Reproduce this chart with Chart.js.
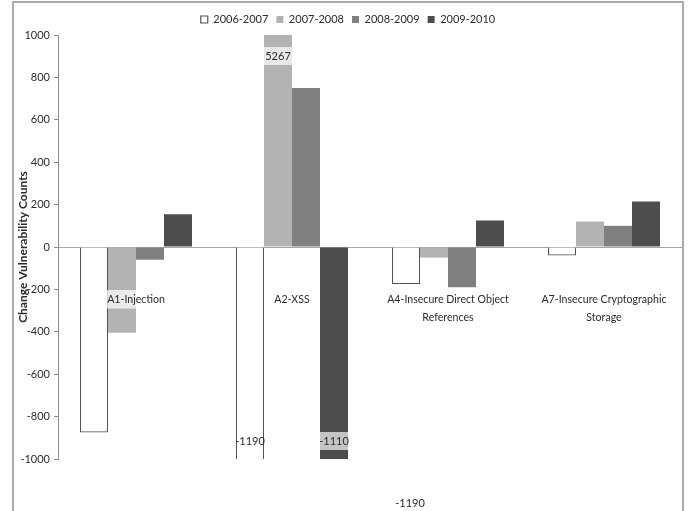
<!DOCTYPE html>
<html>
<head>
<meta charset="utf-8">
<script src="https://cdn.jsdelivr.net/npm/chart.js@4/dist/chart.umd.min.js"></script>
<style>
  html, body { margin: 0; padding: 0; background: #fff; }
  #wrap { width: 688px; height: 511px; position: relative; }
</style>
</head>
<body>
<div id="wrap"><canvas id="c" width="688" height="511"></canvas></div>
<script>
// Change in vulnerability counts per OWASP category, year over year
const categories = [
  'A1-Injection',
  'A2-XSS',
  ['A4-Insecure Direct Object', 'References'],
  ['A7-Insecure Cryptographic', 'Storage']
];
const seriesNames = ['2006-2007', '2007-2008', '2008-2009', '2009-2010'];
const change0607 = [-875, -1190, -175, -40];
const change0708 = [-405, 5267, -50, 120];
const change0809 = [-60, 750, -190, 100];
const change0910 = [155, -1110, 125, 215];
const yTicks = [-1000, -800, -600, -400, -200, 0, 200, 400, 600, 800, 1000];

const FONT = 'Lato, "Open Sans", sans-serif';
const TEXT = '#2b2b2b';

// Value labels for the bars that run past the axis range
const valueLabels = [
  { ds: 1, idx: 1, where: 'top', bg: 'rgba(255,255,255,0.7)' },
  { ds: 3, idx: 1, where: 'bottom', bg: 'rgba(255,255,255,0.68)' },
  { ds: 0, idx: 1, where: 'bottom', bg: null },
  { ds: 0, idx: 1, where: 'outside', bg: null }
];

const frame = {
  id: 'frame',
  beforeDraw(chart) {
    const ctx = chart.ctx;
    ctx.save();
    ctx.fillStyle = '#ffffff';
    ctx.fillRect(0, 0, chart.width, chart.height);
    ctx.strokeStyle = '#ababab';
    ctx.lineWidth = 2;
    ctx.strokeRect(13, 2, 670, 530);
    ctx.restore();
  }
};

const barLabels = {
  id: 'barLabels',
  afterDatasetsDraw(chart) {
    const ctx = chart.ctx;
    const area = chart.chartArea;
    ctx.save();
    ctx.font = '11px ' + FONT;
    ctx.textAlign = 'center';
    ctx.textBaseline = 'middle';
    valueLabels.forEach(l => {
      const bar = chart.getDatasetMeta(l.ds).data[l.idx];
      const value = chart.data.datasets[l.ds].data[l.idx];
      const txt = String(value);
      let x = bar.x, y;
      if (l.where === 'top') y = area.top + 21;
      else if (l.where === 'bottom') y = area.bottom - 18;
      else {
        const xs = chart.scales.x;
        x = (xs.getPixelForValue(1) + xs.getPixelForValue(2)) / 2 + 40;
        y = area.bottom + 44;
      }
      if (l.bg) {
        const w = bar.width;
        ctx.fillStyle = l.bg;
        ctx.fillRect(x - w / 2, y - 9, w, 18);
      }
      ctx.fillStyle = TEXT;
      ctx.fillText(txt, x, y + 0.5);
    });
    ctx.restore();
  }
};

const mkSet = (label, data, bg, border, bw) => ({
  label, data,
  backgroundColor: bg,
  borderColor: border,
  borderWidth: bw,
  borderSkipped: 'start',
  categoryPercentage: 0.718,
  barPercentage: 1.0
});

new Chart(document.getElementById('c'), {
  type: 'bar',
  data: {
    labels: categories,
    datasets: [
      mkSet(seriesNames[0], change0607, '#ffffff', '#555555', 1.2),
      mkSet(seriesNames[1], change0708, '#b3b3b3', '#b3b3b3', 0),
      mkSet(seriesNames[2], change0809, '#808080', '#808080', 0),
      mkSet(seriesNames[3], change0910, '#4d4d4d', '#4d4d4d', 0)
    ]
  },
  options: {
    responsive: false,
    animation: false,
    layout: { padding: { left: 14, right: 6, top: 6, bottom: 52 } },
    plugins: {
      legend: {
        position: 'top',
        labels: {
          font: { family: FONT, size: 11 },
          color: TEXT,
          boxWidth: 7,
          boxHeight: 7,
          padding: 8
        }
      },
      tooltip: { enabled: false }
    },
    scales: {
      x: {
        position: { y: 0 },
        afterFit(scale) {
          scale.paddingLeft = 0;
          scale.paddingRight = 0;
        },
        grid: { display: false, drawTicks: false },
        border: { display: true, color: '#a6a6a6', width: 1 },
        ticks: {
          z: 1,
          padding: 43,
          autoSkip: false,
          maxRotation: 0,
          color: TEXT,
          font: { family: FONT, size: 10.6, lineHeight: 1.75 },
          showLabelBackdrop: true,
          backdropColor: (c) => c.index === 0 ? 'rgba(255,255,255,0.72)' : 'rgba(255,255,255,0)',
          backdropPadding: { top: 0, bottom: 0, left: 1, right: 1 }
        }
      },
      y: {
        min: -1000,
        max: 1000,
        afterBuildTicks(scale) {
          scale.ticks = yTicks.map(v => ({ value: v }));
        },
        afterFit(scale) { scale.width = 58 - 14; },
        grid: { drawOnChartArea: false, drawTicks: true, tickLength: 4, color: '#8c8c8c' },
        border: { display: true, color: '#8c8c8c', width: 1 },
        ticks: {
          padding: 4,
          color: TEXT,
          font: { family: FONT, size: 11 },
          callback: (v) => String(v)
        },
        title: {
          display: true,
          text: 'Change Vulnerability Counts',
          color: TEXT,
          font: { family: FONT, size: 12, weight: 'bold' },
          padding: { top: 2, bottom: 0 }
        }
      }
    }
  },
  plugins: [frame, barLabels]
});
</script>
</body>
</html>
